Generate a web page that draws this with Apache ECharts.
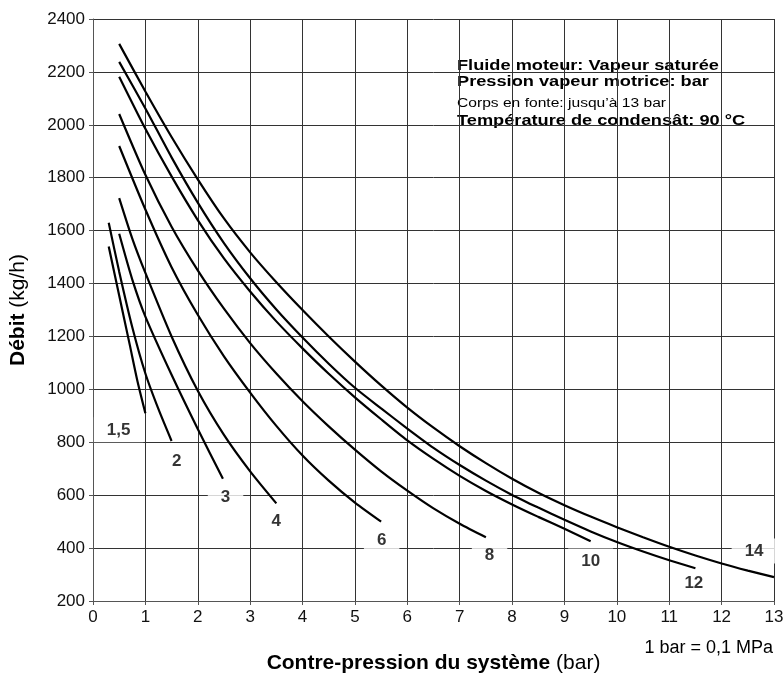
<!DOCTYPE html>
<html>
<head>
<meta charset="utf-8">
<script src="https://cdn.jsdelivr.net/npm/echarts@6/dist/echarts.min.js"></script>
<style>
  html, body { margin: 0; padding: 0; background: #fff; }
  #chart { width: 784px; height: 675px; }
</style>
</head>
<body>
<div id="chart"></div>
<script>
// pressions vapeur motrice (bar) et courbes débit / contre-pression
const pressions = ['1,5', '2', '3', '4', '6', '8', '10', '12', '14']

const courbe1_5 = [[0.3, 1540], [0.5, 1355], [0.7, 1170], [0.85, 1030], [1.0, 910]]
const courbe2 = [[0.3, 1630], [0.5, 1445], [0.75, 1235], [1.0, 1060], [1.25, 925], [1.5, 805]]
const courbe3 = [[0.5, 1588], [0.75, 1415], [1.0, 1275], [1.5, 1055], [2.0, 850], [2.48, 662]]
const courbe4 = [[0.5, 1723], [0.75, 1570], [1.0, 1440], [1.5, 1200], [2.0, 995], [2.5, 828], [3.0, 690], [3.5, 569]]
const courbe6 = [[0.5, 1920], [1.0, 1680], [1.5, 1462], [2.0, 1282], [2.5, 1125], [3.0, 988],
  [3.5, 862], [4.0, 750], [4.5, 655], [5.0, 572], [5.5, 500]]
const courbe8 = [[0.5, 2041], [1.0, 1811], [1.5, 1615], [2.0, 1450], [2.5, 1305], [3.0, 1175], [3.5, 1060],
  [4.0, 955], [4.5, 860], [5.0, 772], [5.5, 690], [6.0, 617], [6.5, 550], [7.0, 492], [7.5, 441]]
const courbe10 = [[0.5, 2182], [1.0, 1985], [1.5, 1805], [2.0, 1640], [2.5, 1495], [3.0, 1370], [3.5, 1257],
  [4.0, 1155], [4.5, 1059], [5.0, 970], [5.5, 887], [6.0, 807], [6.5, 737], [7.0, 673], [7.5, 616],
  [8.0, 565], [8.5, 518], [9.0, 473], [9.5, 426]]
const courbe12 = [[0.5, 2238], [1.0, 2062], [1.5, 1877], [2.0, 1706], [2.5, 1553], [3.0, 1420], [3.5, 1302],
  [4.0, 1196], [4.5, 1097], [5.0, 1006], [5.5, 928], [6.0, 852], [6.5, 779], [7.0, 714], [7.5, 655],
  [8.0, 601], [8.5, 553], [9.0, 507], [9.5, 463], [10.0, 423], [10.5, 387], [11.0, 354], [11.5, 324]]
const courbe14 = [[0.5, 2306], [1.0, 2126], [1.5, 1954], [2.0, 1794], [2.5, 1646], [3.0, 1518], [3.5, 1405],
  [4.0, 1300], [4.5, 1200], [5.0, 1105], [5.5, 1015], [6.0, 931], [6.5, 855], [7.0, 785], [7.5, 721],
  [8.0, 662], [8.5, 609], [9.0, 562], [9.5, 519], [10.0, 479], [10.5, 441], [11.0, 405], [11.5, 372],
  [12.0, 342], [12.5, 315], [13.0, 290]]

const courbes = [courbe1_5, courbe2, courbe3, courbe4, courbe6, courbe8, courbe10, courbe12, courbe14]

// emplacement des étiquettes de pression (en unités des axes)
const etiquettes = [[0.49, 847], [1.6, 729], [2.53, 593], [3.5, 502], [5.51, 431],
  [7.57, 374], [9.5, 351], [11.47, 268], [12.62, 389]]

const xTicks = { min: 0, max: 13, interval: 1 }
const yTicks = { min: 200, max: 2400, interval: 200 }

const police = "'Liberation Sans', Arial, Helvetica, sans-serif"

const myChart = echarts.init(document.getElementById('chart'))

const series = courbes.map((d, i) => ({
  name: pressions[i],
  type: 'line',
  data: d,
  smooth: 0.25,
  symbol: 'none',
  z: 3,
  lineStyle: { color: '#000', width: 2.2 }
}))

// étiquettes sur fond blanc (masquent la grille, pas les courbes)
series.push({
  type: 'scatter',
  name: 'etiquettes',
  silent: true,
  z: 1,
  symbolSize: 0,
  data: etiquettes.map((p, i) => [p[0], p[1], pressions[i]]),
  label: {
    show: true,
    position: 'inside',
    formatter: (p) => p.value[2],
    fontFamily: police,
    fontWeight: 'bold',
    fontSize: 17,
    color: '#000',
    backgroundColor: '#fff',
    padding: [4, 13]
  }
})

const option = {
  backgroundColor: '#fff',
  animation: false,
  textStyle: { fontFamily: police },
  grid: { left: 93, right: 10, top: 19, bottom: 74, outerBoundsMode: 'none', containLabel: false },
  xAxis: {
    type: 'value',
    min: xTicks.min,
    max: xTicks.max,
    interval: xTicks.interval,
    name: '{b|Contre-pression du système} (bar)',
    nameLocation: 'middle',
    nameGap: 52,
    nameTextStyle: {
      fontFamily: police, fontSize: 21, color: '#000',
      rich: { b: { fontFamily: police, fontSize: 21, fontWeight: 'bold', color: '#000' } }
    },
    axisLine: { lineStyle: { color: '#555', width: 1 } },
    axisTick: { show: true, length: 4, lineStyle: { color: '#555' } },
    axisLabel: { fontFamily: police, fontSize: 17, color: '#111', margin: 8, formatter: (v) => String(v) },
    splitLine: { show: true, lineStyle: { color: '#333', width: 1 } }
  },
  yAxis: {
    type: 'value',
    min: yTicks.min,
    max: yTicks.max,
    interval: yTicks.interval,
    name: '{b|Débit} (kg/h)',
    nameLocation: 'middle',
    nameGap: 64,
    nameRotate: 90,
    nameTextStyle: {
      fontFamily: police, fontSize: 21, color: '#000',
      rich: { b: { fontFamily: police, fontSize: 21, fontWeight: 'bold', color: '#000' } }
    },
    axisLine: { show: true, lineStyle: { color: '#555', width: 1 } },
    axisTick: { show: true, length: 4, lineStyle: { color: '#555' } },
    axisLabel: { fontFamily: police, fontSize: 17, color: '#111', margin: 8, formatter: (v) => String(v) },
    splitLine: { show: true, lineStyle: { color: '#333', width: 1 } }
  },
  graphic: [
    {
      type: 'group',
      left: 452,
      top: 53,
      z: 10,
      children: [
        { type: 'rect', shape: { x: 0, y: 0, width: 303, height: 82 }, style: { fill: '#fff' } },
        { type: 'text', x: 5, y: 13, scaleX: 1.3,
          style: { text: 'Fluide moteur: Vapeur saturée', font: 'bold 14px ' + police, fill: '#000', verticalAlign: 'middle' } },
        { type: 'text', x: 5, y: 29, scaleX: 1.3,
          style: { text: 'Pression vapeur motrice: bar', font: 'bold 14px ' + police, fill: '#000', verticalAlign: 'middle' } },
        { type: 'text', x: 5, y: 51, scaleX: 1.3,
          style: { text: 'Corps en fonte: jusqu’à 13 bar', font: '12px ' + police, fill: '#000', verticalAlign: 'middle' } },
        { type: 'text', x: 5, y: 68, scaleX: 1.3,
          style: { text: 'Température de condensât: 90 °C', font: 'bold 14px ' + police, fill: '#000', verticalAlign: 'middle' } }
      ]
    },
    {
      type: 'text',
      right: 11,
      top: 639,
      style: { text: '1 bar = 0,1 MPa', font: '18px ' + police, fill: '#000' }
    }
  ],
  series: series
}

myChart.setOption(option)
</script>
</body>
</html>
